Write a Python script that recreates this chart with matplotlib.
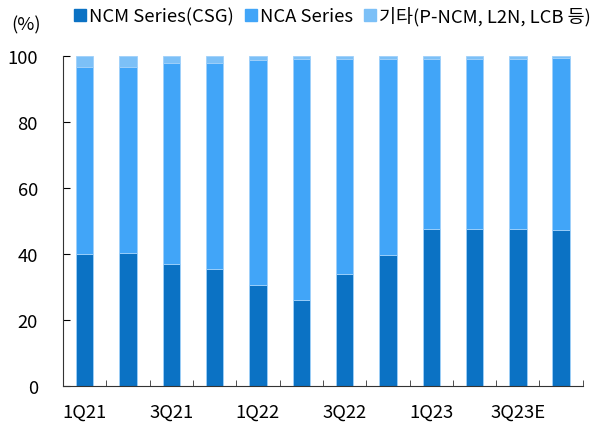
import numpy as np
import matplotlib.pyplot as plt
from matplotlib.lines import Line2D

plt.rcParams['font.family'] = ['Noto Sans CJK KR', 'DejaVu Sans']
plt.rcParams['font.weight'] = 'light'

quarters = ['1Q21', '2Q21', '3Q21', '4Q21', '1Q22', '2Q22', '3Q22', '4Q22',
            '1Q23', '2Q23', '3Q23E', '4Q23E']
ncm = [40.0, 40.3, 36.9, 35.5, 30.6, 26.0, 33.8, 39.6, 47.5, 47.7, 47.5, 47.2]
nca = [56.5, 56.2, 61.0, 62.4, 68.3, 73.2, 65.4, 59.6, 51.7, 51.5, 51.7, 52.3]
etc = [3.5, 3.5, 2.1, 2.1, 1.1, 0.8, 0.8, 0.8, 0.8, 0.8, 0.8, 0.5]
names = ['NCM Series(CSG)', 'NCA Series', '기타(P-NCM, L2N, LCB 등)']
colors = ['#0b72c4', '#41a5f8', '#7cc0f7']

fig = plt.figure(figsize=(5.99, 4.31), dpi=100)
ax = fig.add_axes([0.105, 0.102, 0.868, 0.766])

x = np.arange(len(quarters))
bottom = np.zeros(len(quarters))
for vals, c in zip([ncm, nca, etc], colors):
    ax.bar(x, vals, 0.4, bottom=bottom, color=c, edgecolor='#9fd0fa', linewidth=0.6)
    bottom += np.array(vals)

fs = 13.3
ax.set_xlim(-0.5, 11.5)
ax.set_ylim(0, 100)
ax.set_yticks(range(0, 101, 20))
ax.set_xticks(x[::2])
ax.set_xticklabels(quarters[::2])
ax.set_xticks(np.arange(-0.5, 12, 1), minor=True)
ax.tick_params(axis='x', which='major', length=0, pad=12, labelsize=fs)
ax.tick_params(axis='x', which='minor', direction='in', length=4, color='#333333')
ax.tick_params(axis='y', direction='in', length=5, pad=18, labelsize=fs)
for s in ['top', 'right']:
    ax.spines[s].set_visible(False)
ax.spines['left'].set_color('#333333')
ax.spines['bottom'].set_color('#333333')

fig.text(0.043, 0.94, '(%)', fontsize=fs, ha='center', va='center')

handles = [Line2D([], [], marker='s', linestyle='', color=c, markersize=9) for c in colors]
fig.legend(handles, names, ncol=3, loc='center', bbox_to_anchor=(0.552, 0.962),
           frameon=False, fontsize=fs, handletextpad=0.0, columnspacing=0.4,
           handlelength=1.0)

fig.savefig('out.png', dpi=100)
